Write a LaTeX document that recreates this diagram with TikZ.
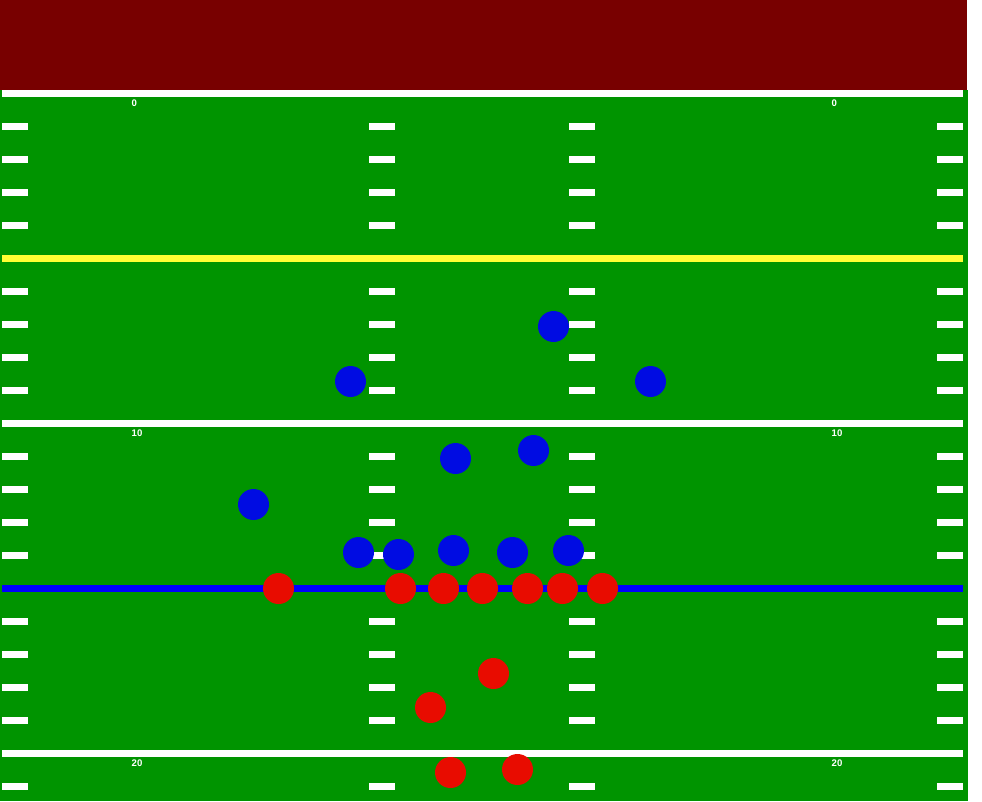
\documentclass[tikz,border=0pt]{standalone}
\usepackage{fontspec}
\setmainfont{Liberation Sans}
\definecolor{maroonbg}{RGB}{120,0,0}
\definecolor{fieldgreen}{RGB}{0,148,0}
\definecolor{yardyellow}{RGB}{255,255,51}
\definecolor{scrimblue}{RGB}{0,0,255}
\definecolor{defblue}{RGB}{0,12,226}
\definecolor{offred}{RGB}{232,12,0}
\begin{document}
\begin{tikzpicture}[x=1pt,y=-1pt,
  hashmark/.style={fill=white},
  yardline/.style={line width=7pt,white},
  numlabel/.style={text=white,font=\fontsize{9.6}{10}\selectfont\bfseries,inner sep=0pt,anchor=west},
  defender/.style={circle,fill=defblue,minimum size=31pt,inner sep=0pt},
  offense/.style={circle,fill=offred,minimum size=31pt,inner sep=0pt}]
\useasboundingbox (0,0) rectangle (982,801);
\fill[white] (0,0) rectangle (982,801);
\fill[maroonbg] (0,0) rectangle (967,90);
\fill[fieldgreen] (0,90) rectangle (968,801);
% hash marks
\foreach \k in {1,2,3,4,6,7,8,9,11,12,13,14,16,17,18,19,21}{
  \pgfmathsetmacro{\yy}{93.5+33*\k}
  \foreach \xa in {2,369,569,937}{
    \fill[hashmark] (\xa,\yy-3.5) rectangle (\xa+26,\yy+3.5);
  }
}
% yard lines
\coordinate (l0a) at (2,93.5); \coordinate (l0b) at (963,93.5);
\coordinate (l5a) at (2,258.5); \coordinate (l5b) at (963,258.5);
\coordinate (l10a) at (2,423.5); \coordinate (l10b) at (963,423.5);
\coordinate (l15a) at (2,588.5); \coordinate (l15b) at (963,588.5);
\coordinate (l20a) at (2,753.5); \coordinate (l20b) at (963,753.5);
\draw[yardline] (l0a) -- (l0b);
\draw[yardline,yardyellow] (l5a) -- (l5b);
\draw[yardline] (l10a) -- (l10b);
\draw[yardline,scrimblue] (l15a) -- (l15b);
\draw[yardline] (l20a) -- (l20b);
% numbers
\node[numlabel] (n0l) at (131.5,103.5) {0};
\node[numlabel] (n0r) at (831.5,103.5) {0};
\node[numlabel] (n10l) at (131.5,433.5) {10};
\node[numlabel] (n10r) at (831.5,433.5) {10};
\node[numlabel] (n20l) at (131.5,763.5) {20};
\node[numlabel] (n20r) at (831.5,763.5) {20};
% defense
\node[defender] (d1) at (553.5,326.5) {};
\node[defender] (d2) at (350.5,381.5) {};
\node[defender] (d3) at (650.5,381.5) {};
\node[defender] (d4) at (455.5,458.5) {};
\node[defender] (d5) at (533.5,450.5) {};
\node[defender] (d6) at (253.5,504.5) {};
\node[defender] (d7) at (358.5,552.5) {};
\node[defender] (d8) at (398.5,554.5) {};
\node[defender] (d9) at (453.5,550.5) {};
\node[defender] (d10) at (512.5,552.5) {};
\node[defender] (d11) at (568.5,550.5) {};
% offense
\node[offense] (o1) at (278.5,588.5) {};
\node[offense] (o2) at (400.5,588.5) {};
\node[offense] (o3) at (443.5,588.5) {};
\node[offense] (o4) at (482.5,588.5) {};
\node[offense] (o5) at (527.5,588.5) {};
\node[offense] (o6) at (562.5,588.5) {};
\node[offense] (o7) at (602.5,588.5) {};
\node[offense] (o8) at (493.5,673.5) {};
\node[offense] (o9) at (430.5,707.5) {};
\node[offense] (o10) at (450.5,772.5) {};
\node[offense] (o11) at (517.5,769.5) {};
\end{tikzpicture}
\end{document}
